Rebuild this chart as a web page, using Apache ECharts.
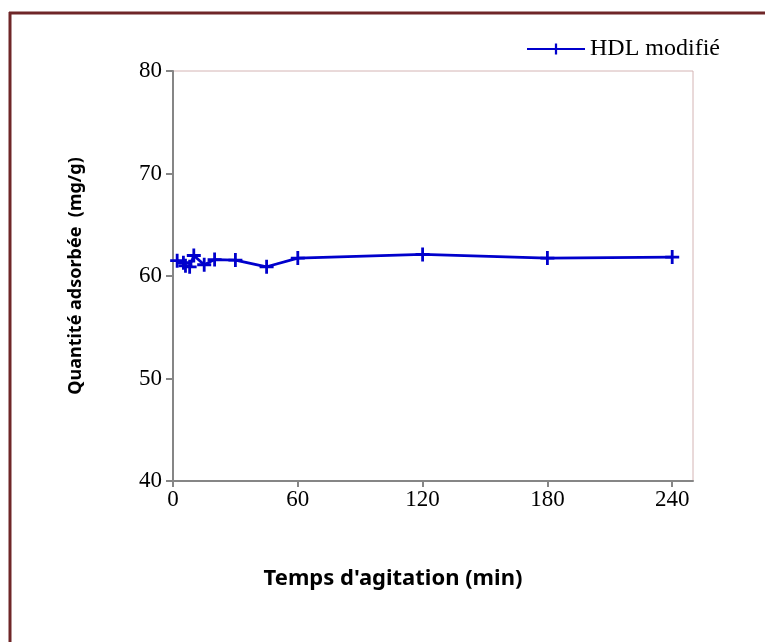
<!DOCTYPE html>
<html>
<head>
<meta charset="utf-8">
<script src="https://cdn.jsdelivr.net/npm/echarts@6/dist/echarts.min.js"></script>
<style>
  html, body { margin: 0; padding: 0; background: #fff; }
  #main { width: 765px; height: 642px; }
</style>
</head>
<body>
<div id="main"></div>
<script>
// temps d'agitation (min) et quantité adsorbée (mg/g)
var times = [2, 5, 6, 8, 10, 15, 20, 30, 45, 60, 120, 180, 240];
var qads = [61.5, 61.3, 61.0, 60.9, 62.0, 61.1, 61.6, 61.55, 60.9, 61.75, 62.1, 61.75, 61.85];
var xTicks = [0, 60, 120, 180, 240];
var seriesName = 'HDL modifié';

var chart = echarts.init(document.getElementById('main'));

var points = times.map(function (t, i) { return [t, qads[i]]; });
var plus = 'path://M4,0h2v4h4v2h-4v4h-2v-4h-4v-2h4z';

var option = {
    backgroundColor: '#fff',
    animation: false,
    graphic: [
        {
            type: 'line',
            shape: { x1: 9, y1: 13, x2: 765, y2: 13 },
            style: { stroke: '#6f2628', lineWidth: 3 }
        },
        {
            type: 'line',
            shape: { x1: 10, y1: 12, x2: 10, y2: 642 },
            style: { stroke: '#6f2628', lineWidth: 3 }
        }
    ],
    legend: {
        left: 521,
        top: 32,
        itemWidth: 58,
        itemHeight: 14,
        itemGap: 4,
        textStyle: {
            fontFamily: 'Liberation Serif',
            fontSize: 24,
            color: '#000'
        },
        data: [seriesName]
    },
    grid: {
        left: 173,
        right: 72,
        top: 71,
        bottom: 161,
        show: true,
        borderColor: '#d4b4b4',
        borderWidth: 1
    },
    xAxis: {
        type: 'value',
        min: 0,
        max: 250,
        name: "Temps d'agitation (min)",
        nameLocation: 'middle',
        nameGap: 87,
        nameTextStyle: {
            fontFamily: 'Noto Sans',
            fontWeight: 'bold',
            fontSize: 22,
            color: '#000',
            verticalAlign: 'top',
            padding: [0, 80, 0, 0]
        },
        axisLine: { show: true, lineStyle: { color: '#868686', width: 2 } },
        axisTick: {
            show: true,
            length: 6,
            customValues: xTicks,
            lineStyle: { color: '#868686', width: 2 }
        },
        axisLabel: {
            customValues: xTicks,
            margin: 7,
            fontFamily: 'Liberation Serif',
            fontSize: 23,
            color: '#000'
        },
        splitLine: { show: false }
    },
    yAxis: {
        type: 'value',
        min: 40,
        max: 80,
        interval: 10,
        name: 'Quantité adsorbée  (mg/g)',
        nameLocation: 'middle',
        nameGap: 88,
        nameTextStyle: {
            fontFamily: 'Noto Sans',
            fontWeight: 'bold',
            fontSize: 18,
            color: '#000'
        },
        axisLine: { show: true, lineStyle: { color: '#868686', width: 2 } },
        axisTick: { show: true, length: 7, lineStyle: { color: '#868686', width: 2 } },
        axisLabel: {
            margin: 11,
            fontFamily: 'Liberation Serif',
            fontSize: 23,
            color: '#000'
        },
        splitLine: { show: false }
    },
    series: [{
        name: seriesName,
        type: 'line',
        data: points,
        symbol: plus,
        symbolSize: 14,
        showAllSymbol: true,
        lineStyle: { color: '#0000cc', width: 2.8 },
        itemStyle: { color: '#0000cc' }
    }]
};

chart.setOption(option);
</script>
</body>
</html>
